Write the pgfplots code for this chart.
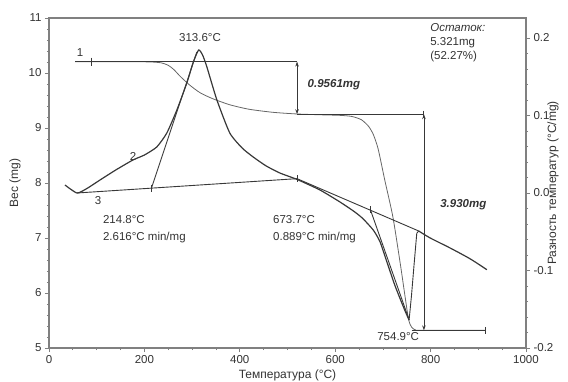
\documentclass[border=0pt]{standalone}
\usepackage{fontspec}
\setmainfont{Liberation Sans}
\usepackage{pgfplots}
\pgfplotsset{compat=1.18}
\usetikzlibrary{arrows.meta}
\definecolor{ax}{gray}{0.5}
\definecolor{cv}{gray}{0.22}
\definecolor{tg}{gray}{0.4}
\definecolor{tx}{gray}{0.2}
\newcommand\af{\fontsize{11.5}{13}\selectfont}
\begin{document}
\begin{tikzpicture}[x=1pt,y=1pt]
\useasboundingbox (0,0) rectangle (568,381);
\pgfplotsset{every axis/.append style={
  scale only axis, width=477pt, height=330pt, at={(49pt,33pt)}, anchor=south west,
  xmin=0, xmax=1000, clip=false,
  tick label style={font=\fontsize{11.5}{13}\selectfont, text=tx},
  label style={font=\fontsize{12}{14}\selectfont, text=tx},
  /pgf/number format/assume math mode=true,
  /pgf/number format/1000 sep={},
  tick align=outside, major tick length=4pt, minor tick length=2.2pt,
  tick style={ax, line width=0.8pt},
  axis line style={ax, line width=1.4pt},
}}
% ---------- left axis: mass ----------
\begin{axis}[
  ymin=5, ymax=11, ytick={5,6,...,11}, xtick={0,200,...,1000},
  minor x tick num=3, minor y tick num=4,
  xtick pos=left, ytick pos=left,
  xlabel={Температура (°С)}, ylabel={Вес (mg)},
  xlabel style={at={(axis description cs:0.5,-0.083)}, anchor=center},
  ylabel style={at={(axis description cs:-0.0713,0.5)}, anchor=center},
]
% TG curve
\addplot[tg, line width=0.8pt, smooth, tension=0.4] coordinates {
(55,10.207)(120,10.207)(180,10.206)(215,10.20)(235,10.185)(250,10.14)(262,10.06)
(275,9.94)(295,9.78)(317,9.64)(344,9.53)(380,9.42)(420,9.34)(470,9.285)(520,9.255)
(570,9.24)(610,9.23)(635,9.21)(655,9.15)(670,9.03)(680,8.88)(690,8.62)(704,8.05)
(721,7.38)(737,6.5)(753,5.56)(760,5.38)(768,5.33)(780,5.322)(914,5.321)};
% mass step annotations
\addplot[cv, line width=0.8pt] coordinates {(55,10.207)(520,10.207)};
\addplot[cv, line width=0.8pt, mark=|, mark size=4pt, only marks] coordinates {(88,10.207)};
\addplot[cv, line width=0.8pt, {Stealth[length=5pt,width=3.5pt]}-{Stealth[length=5pt,width=3.5pt]}] coordinates {(520,10.207)(520,9.251)};
\addplot[cv, line width=0.8pt, -{Bar[width=7pt]}] coordinates {(520,9.251)(786,9.251)};
\addplot[cv, line width=0.8pt, {Stealth[length=5pt,width=3.5pt]}-{Stealth[length=5pt,width=3.5pt]}] coordinates {(786,9.251)(786,5.321)};
\addplot[cv, line width=0.8pt, -{Bar[width=7pt]}] coordinates {(760,5.321)(916,5.321)};
% texts
\node[font=\af, text=tx] at (axis cs:316.6,10.636) {313.6°C};
\node[font=\af\bfseries\itshape, text=tx, anchor=west] at (axis cs:535,9.78) {0.9561mg};
\node[font=\af\bfseries\itshape, text=tx, anchor=west] at (axis cs:813,7.6) {3.930mg};
\node[font=\fontsize{11.5}{14}\selectfont, text=tx, anchor=north west, align=left, inner sep=0pt] at (axis cs:799,10.91) {\textit{Остаток:}\\5.321mg\\(52.27\%)};
\node[font=\fontsize{11.5}{16.5}\selectfont, text=tx, anchor=north west, align=left, inner sep=0pt] at (axis cs:113,7.41) {214.8°C\\2.616°C min/mg};
\node[font=\fontsize{11.5}{16.5}\selectfont, text=tx, anchor=north west, align=left, inner sep=0pt] at (axis cs:469.6,7.41) {673.7°C\\0.889°C min/mg};
\node[font=\af, text=tx] at (axis cs:732,5.2) {754.9°C};
\node[font=\af, text=tx] at (axis cs:65,10.37) {1};
\node[font=\af, text=tx] at (axis cs:176,8.48) {2};
\node[font=\af, text=tx] at (axis cs:103,7.68) {3};
\end{axis}
% ---------- right axis: DTA ----------
\begin{axis}[
  axis x line=none, axis y line*=right,
  ymin=-0.2, ymax=0.2258, ytick={-0.2,-0.1,0,0.1,0.2}, minor y tick num=4,
  yticklabel style={/pgf/number format/fixed, /pgf/number format/fixed zerofill, /pgf/number format/precision=1},
  ylabel={Разность температур (°С/mg)},
  ylabel style={at={(axis description cs:1.0566,0.5)}, anchor=center},
]
\addplot[cv, line width=1.2pt, smooth, tension=0.35] coordinates {
(33.5,0.0103)(58.7,0.0)(80,0.006)(107,0.0168)(140,0.0297)(176,0.0426)(200,0.049)
(226,0.0594)(247,0.0774)(268,0.107)(289,0.142)(302,0.168)(313.6,0.1845)(322,0.178)
(331,0.1626)(352,0.12)(379,0.0774)(405,0.058)(428,0.0465)(455,0.035)(484,0.0258)
(520,0.0175)(568,0.0039)(610,-0.0116)(640,-0.024)(658,-0.033)(680,-0.048)(694,-0.063)
(709,-0.090)(725,-0.119)(745,-0.150)(754.9,-0.164)};
\addplot[cv, line width=0.9pt] coordinates {(754.9,-0.164)(760,-0.132)(765,-0.095)(771,-0.052)(775,-0.049)};
\addplot[cv, line width=1.2pt, smooth] coordinates {(775,-0.049)(799,-0.058)(841,-0.071)(883,-0.085)(918,-0.099)};
% baselines and tangents
\addplot[cv, line width=0.9pt] coordinates {(58.7,0.0)(520,0.0185)};
\addplot[cv, line width=0.9pt] coordinates {(520,0.0185)(775,-0.049)};
\addplot[cv, line width=0.9pt] coordinates {(214.8,0.0063)(310,0.182)};
\addplot[cv, line width=0.9pt] coordinates {(673.7,-0.0214)(754,-0.162)};
\addplot[cv, line width=0.8pt, mark=|, mark size=3.5pt, only marks] coordinates {(214.8,0.0063)(520,0.0185)(673.7,-0.0214)};
\end{axis}
\end{tikzpicture}
\end{document}
